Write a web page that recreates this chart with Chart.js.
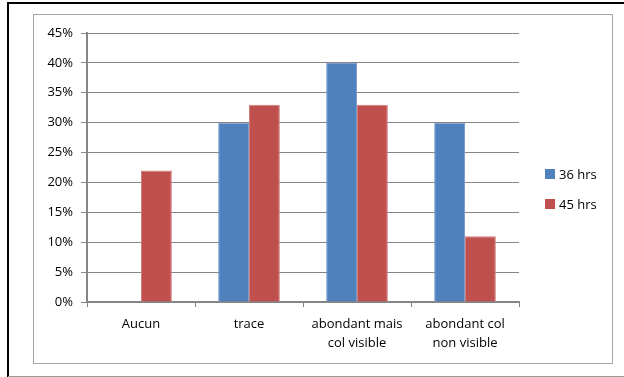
<!DOCTYPE html>
<html>
<head>
<meta charset="utf-8">
<script src="https://cdn.jsdelivr.net/npm/chart.js@4.4.1/dist/chart.umd.min.js"></script>
<style>
  html, body { margin: 0; padding: 0; background: #fff; }
  #wrap { position: relative; width: 624px; height: 377px; }
</style>
</head>
<body>
<div id="wrap"><canvas id="chart" width="624" height="377"></canvas></div>
<script>
// Categories and series
const categories = ['Aucun', 'trace', ['abondant mais', 'col visible'], ['abondant col', 'non visible']];
const series36 = [0, 0.30, 0.40, 0.30];
const series45 = [0.22, 0.33, 0.33, 0.11];
const seriesLabels = ['36 hrs', '45 hrs'];
const yTicks = [0, 0.05, 0.10, 0.15, 0.20, 0.25, 0.30, 0.35, 0.40, 0.45];

const FONT = "'Open Sans', 'Noto Sans', sans-serif";
const GRID = '#868686';

// Outer frame (black top/left edge, grey bottom) and the inner grey chart border
const framePlugin = {
  id: 'frame',
  beforeDraw(chart) {
    const ctx = chart.ctx;
    ctx.save();
    ctx.fillStyle = '#fff';
    ctx.fillRect(0, 0, chart.width, chart.height);
    ctx.strokeStyle = '#000';
    ctx.lineWidth = 2;
    ctx.beginPath();
    ctx.moveTo(8, chart.height);
    ctx.lineTo(8, 3);
    ctx.lineTo(chart.width, 3);
    ctx.stroke();
    ctx.strokeStyle = '#9a9a9a';
    ctx.lineWidth = 1;
    ctx.beginPath();
    ctx.moveTo(8, 376.5);
    ctx.lineTo(chart.width, 376.5);
    ctx.stroke();
    ctx.strokeStyle = '#a6a6a6';
    ctx.strokeRect(33.5, 14.5, 579, 349);
    ctx.restore();
  },
};

// Legend drawn to the right of the plot, from the datasets themselves
const sideLegend = {
  id: 'sideLegend',
  afterDraw(chart) {
    const ctx = chart.ctx;
    const x = chart.chartArea.right + 26;
    const mid = 189;
    const step = 30;
    const n = chart.data.datasets.length;
    ctx.save();
    ctx.font = `13px ${FONT}`;
    ctx.textBaseline = 'middle';
    chart.data.datasets.forEach((ds, i) => {
      const y = mid + (i - (n - 1) / 2) * step;
      ctx.fillStyle = ds.backgroundColor;
      ctx.fillRect(x, y - 5, 10, 10);
      ctx.fillStyle = '#000';
      ctx.fillText(ds.label, x + 14, y + 1);
    });
    ctx.restore();
  },
};

new Chart(document.getElementById('chart'), {
  type: 'bar',
  data: {
    labels: categories,
    datasets: [
      { label: seriesLabels[0], data: series36, backgroundColor: '#4F81BD', borderColor: '#7A9FCD', borderWidth: 1 },
      { label: seriesLabels[1], data: series45, backgroundColor: '#C0504D', borderColor: '#D07E7C', borderWidth: 1 },
    ],
  },
  options: {
    responsive: false,
    animation: false,
    layout: { padding: { left: 33, top: 33, right: 105, bottom: 14 } },
    datasets: { bar: { categoryPercentage: 0.571, barPercentage: 1 } },
    plugins: {
      legend: { display: false },
      tooltip: { enabled: false },
    },
    scales: {
      x: {
        grid: { display: true, drawOnChartArea: false, color: GRID, tickLength: 5, offset: true },
        border: { color: GRID, width: 2 },
        ticks: { color: '#000', padding: 8, maxRotation: 0, font: { family: FONT, size: 13, lineHeight: 1.45 } },
        afterFit: (s) => { s.height = 61; },
      },
      y: {
        min: 0,
        max: 0.45,
        afterBuildTicks: (s) => { s.ticks = yTicks.map((v) => ({ value: v })); },
        grid: { color: GRID, tickLength: 6 },
        border: { color: GRID, width: 2 },
        ticks: { color: '#000', padding: 8, font: { family: FONT, size: 13 }, callback: (v) => Math.round(v * 100) + '%' },
        afterFit: (s) => { s.width = 54; },
      },
    },
  },
  plugins: [framePlugin, sideLegend],
});
</script>
</body>
</html>
